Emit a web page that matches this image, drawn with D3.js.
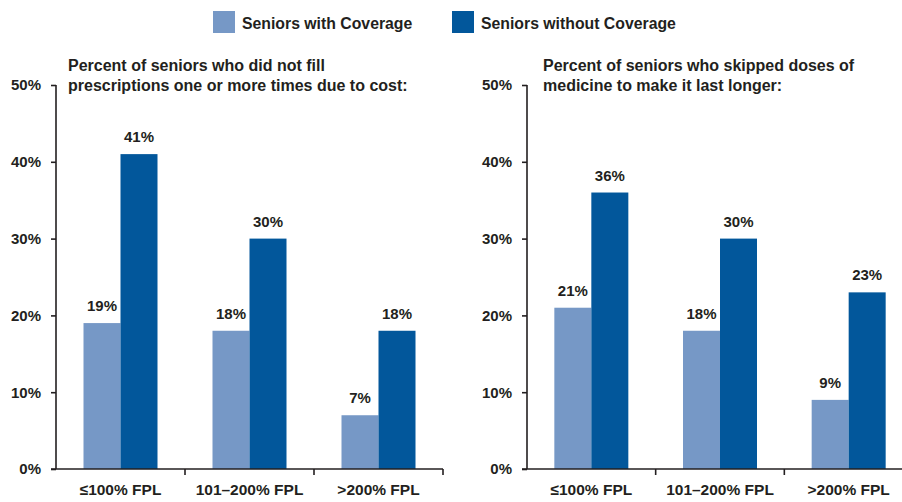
<!DOCTYPE html>
<html>
<head>
<meta charset="utf-8">
<style>
body { margin: 0; background: #fff; }
svg text { font-family: "Liberation Sans", Arial, Helvetica, sans-serif; font-weight: bold; fill: #231f20; }
.axis path, .axis line { stroke: #231f20; stroke-width: 1.6; }
</style>
</head>
<body>
<svg width="902" height="502"></svg>
<script src="https://d3js.org/d3.v7.min.js"></script>
<script>
var categories = ["\u2264100% FPL", "101\u2013200% FPL", ">200% FPL"];
var seriesNames = ["Seniors with Coverage", "Seniors without Coverage"];
var colors = ["#7698c6", "#02579b"];
var yTicks = [0, 10, 20, 30, 40, 50];

var notFilledWith = [19, 18, 7];
var notFilledWithout = [41, 30, 18];
var skippedWith = [21, 18, 9];
var skippedWithout = [36, 30, 23];

var panels = [
  { title: ["Percent of seniors who did not fill", "prescriptions one or more times due to cost:"],
    x0: 56, x1: 443, titleX: 68, values: [notFilledWith, notFilledWithout] },
  { title: ["Percent of seniors who skipped doses of", "medicine to make it last longer:"],
    x0: 527, x1: 913, titleX: 543, values: [skippedWith, skippedWithout] }
];

var svg = d3.select("svg");
var y = d3.scaleLinear().domain([0, 50]).range([469, 85]);

// legend
var legend = svg.append("g");
var legendX = [213, 452];
seriesNames.forEach(function(name, i) {
  legend.append("rect").attr("x", legendX[i]).attr("y", 11).attr("width", 22).attr("height", 22).attr("fill", colors[i]);
  legend.append("text").attr("x", legendX[i] + 29).attr("y", 29).attr("font-size", 15.8).text(name);
});

panels.forEach(function(p) {
  var g = svg.append("g");
  var x = d3.scaleBand().domain(categories).range([p.x0, p.x1]);
  var barW = 37;

  // title
  p.title.forEach(function(line, i) {
    g.append("text").attr("x", p.titleX).attr("y", 71 + i * 19.5).attr("font-size", 16).text(line);
  });

  // y axis
  var yAxis = g.append("g").attr("class", "axis").attr("transform", "translate(" + p.x0 + ",0)")
    .call(d3.axisLeft(y).tickValues(yTicks).tickFormat(function(d) { return d + "%"; }).tickSize(5).tickSizeOuter(5));
  yAxis.select(".domain").remove();
  yAxis.append("line").attr("x1", 0).attr("x2", 0).attr("y1", y(50)).attr("y2", y(0)).attr("stroke", "#231f20").attr("stroke-width", 1.6);
  yAxis.selectAll("text").attr("x", -15).attr("font-size", 15).attr("fill", "#231f20").attr("font-family", null);

  // bars
  p.values.forEach(function(vals, s) {
    g.selectAll(".bar" + s).data(vals).enter().append("rect")
      .attr("x", function(d, i) { return x(categories[i]) + x.bandwidth() / 2 - barW + s * barW; })
      .attr("y", function(d) { return y(d); })
      .attr("width", barW)
      .attr("height", function(d) { return y(0) - y(d); })
      .attr("fill", colors[s]);
    g.selectAll(".lab" + s).data(vals).enter().append("text")
      .attr("x", function(d, i) { return x(categories[i]) + x.bandwidth() / 2 - barW / 2 + s * barW; })
      .attr("y", function(d) { return y(d) - 12; })
      .attr("text-anchor", "middle").attr("font-size", 15)
      .text(function(d) { return d + "%"; });
  });

  // x axis
  var xg = g.append("g").attr("class", "axis");
  xg.append("line").attr("x1", p.x0 - 5).attr("x2", p.x1).attr("y1", y(0)).attr("y2", y(0));
  categories.forEach(function(c) {
    xg.append("line").attr("x1", x(c) + x.bandwidth()).attr("x2", x(c) + x.bandwidth()).attr("y1", y(0)).attr("y2", y(0) + 6);
    xg.append("text").attr("x", x(c) + x.bandwidth() / 2).attr("y", 495).attr("text-anchor", "middle").attr("font-size", 15.5).text(c);
  });
});
</script>
</body>
</html>
